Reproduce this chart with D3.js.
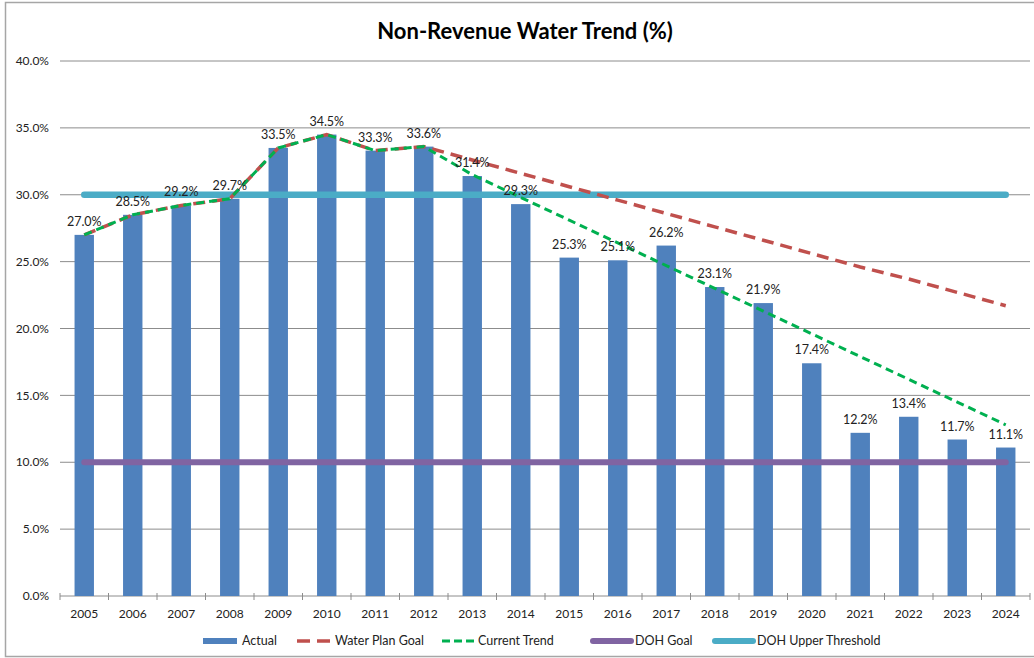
<!DOCTYPE html>
<html>
<head>
<meta charset="utf-8">
<script src="https://cdn.jsdelivr.net/npm/d3@7"></script>
<style>
    body { margin: 0; background: #fff; }
    svg { display: block; font-family: Lato, "Open Sans", sans-serif; }
</style>
</head>
<body>
<div id="chart"></div>
<script>
const years = ["2005", "2006", "2007", "2008", "2009", "2010", "2011", "2012", "2013", "2014",
    "2015", "2016", "2017", "2018", "2019", "2020", "2021", "2022", "2023", "2024"];
const actual = [27.0, 28.5, 29.2, 29.7, 33.5, 34.5, 33.3, 33.6, 31.4, 29.3,
    25.3, 25.1, 26.2, 23.1, 21.9, 17.4, 12.2, 13.4, 11.7, 11.1];
const waterPlanGoal = [27.0, 28.5, 29.2, 29.7, 33.5, 34.5, 33.3, 33.6, 32.6, 31.6,
    30.6, 29.6, 28.6, 27.6, 26.6, 25.6, 24.6, 23.7, 22.7, 21.7];
const currentTrend = [27.0, 28.5, 29.2, 29.7, 33.5, 34.5, 33.3, 33.6, 31.5, 29.8,
    28.1, 26.4, 24.7, 23.0, 21.3, 19.6, 17.9, 16.2, 14.5, 12.8];
const dohGoal = [10, 10, 10, 10, 10, 10, 10, 10, 10, 10, 10, 10, 10, 10, 10, 10, 10, 10, 10, 10];
const dohUpper = [30, 30, 30, 30, 30, 30, 30, 30, 30, 30, 30, 30, 30, 30, 30, 30, 30, 30, 30, 30];
const yTicks = [0, 5, 10, 15, 20, 25, 30, 35, 40];

const W = 1034, H = 658;
const margin = {top: 61, right: 4, bottom: 62, left: 60},
    width = W - margin.left - margin.right,
    height = H - margin.top - margin.bottom;

const colors = {
    actual: "#4f81bd",
    plan: "#c0504d",
    trend: "#00b050",
    goal: "#8064a2",
    upper: "#4bacc6",
    grid: "#8c8c8c"
};

const svg = d3.select("#chart").append("svg")
    .attr("width", W)
    .attr("height", H);

// outer frame
svg.append("rect")
    .attr("x", 5.5).attr("y", 2.5)
    .attr("width", W + 10).attr("height", H - 4)
    .attr("fill", "none")
    .attr("stroke", "#a6a6a6")
    .attr("stroke-width", 1.5);

svg.append("text")
    .attr("x", 525).attr("y", 39)
    .attr("text-anchor", "middle")
    .attr("font-size", 22)
    .attr("font-weight", "bold")
    .attr("fill", "#000")
    .text("Non-Revenue Water Trend (%)");

const g = svg.append("g")
    .attr("transform", "translate(" + margin.left + "," + margin.top + ")");

const x = d3.scaleBand().domain(years).range([0, width]);
const y = d3.scaleLinear().domain([0, 40]).range([height, 0]);
const cx = d => x(d) + x.bandwidth() / 2;

// gridlines
g.append("g").selectAll("line")
    .data(yTicks)
    .enter().append("line")
    .attr("x1", 0).attr("x2", width)
    .attr("y1", d => y(d)).attr("y2", d => y(d))
    .attr("stroke", colors.grid)
    .attr("stroke-width", 1);

// y labels
g.append("g").selectAll("text")
    .data(yTicks)
    .enter().append("text")
    .attr("x", -11)
    .attr("y", d => y(d))
    .attr("dy", "0.35em")
    .attr("text-anchor", "end")
    .attr("font-size", 12)
    .attr("fill", "#222")
    .text(d => d3.format(".1f")(d) + "%");

// x axis ticks at band edges
const edges = years.map(d => x(d)).concat([width]);
g.append("g").selectAll("line")
    .data(edges)
    .enter().append("line")
    .attr("x1", d => d).attr("x2", d => d)
    .attr("y1", height - 3).attr("y2", height + 4)
    .attr("stroke", colors.grid);

g.append("g").selectAll("text")
    .data(years)
    .enter().append("text")
    .attr("x", d => cx(d))
    .attr("y", height + 22)
    .attr("text-anchor", "middle")
    .attr("font-size", 12)
    .attr("fill", "#222")
    .text(d => d);

// bars
const barW = x.bandwidth() * 0.4;
g.append("g").selectAll("rect")
    .data(actual)
    .enter().append("rect")
    .attr("x", (d, i) => cx(years[i]) - barW / 2)
    .attr("width", barW)
    .attr("y", d => y(d))
    .attr("height", d => height - y(d))
    .attr("fill", colors.actual);

const line = d3.line()
    .x((d, i) => cx(years[i]))
    .y(d => y(d));

g.append("path")
    .attr("d", line(dohGoal))
    .attr("fill", "none")
    .attr("stroke", colors.goal)
    .attr("stroke-width", 6)
    .attr("stroke-linecap", "round");

g.append("path")
    .attr("d", line(dohUpper))
    .attr("fill", "none")
    .attr("stroke", colors.upper)
    .attr("stroke-width", 6.5)
    .attr("stroke-linecap", "round");

g.append("path")
    .attr("d", line(waterPlanGoal))
    .attr("fill", "none")
    .attr("stroke", colors.plan)
    .attr("stroke-width", 3.5)
    .attr("stroke-dasharray", "12,7");

g.append("path")
    .attr("d", line(currentTrend))
    .attr("fill", "none")
    .attr("stroke", colors.trend)
    .attr("stroke-width", 3)
    .attr("stroke-dasharray", "8,5");

// data labels
g.append("g").selectAll("text")
    .data(actual)
    .enter().append("text")
    .attr("x", (d, i) => cx(years[i]))
    .attr("y", d => y(d) - 9)
    .attr("text-anchor", "middle")
    .attr("font-size", 12.5)
    .attr("fill", "#222")
    .text(d => d3.format(".1f")(d) + "%");

// legend
const legendItems = [
    {name: "Actual", type: "rect", color: colors.actual, x: 203, tx: 39},
    {name: "Water Plan Goal", type: "dash", color: colors.plan, dash: "13,7", w: 3.5, x: 297, len: 33, tx: 38},
    {name: "Current Trend", type: "dash", color: colors.trend, dash: "8,4", w: 3, x: 442, len: 32, tx: 36},
    {name: "DOH Goal", type: "line", color: colors.goal, w: 6, x: 590, tx: 45},
    {name: "DOH Upper Threshold", type: "line", color: colors.upper, w: 6, x: 712, tx: 45}
];
const legend = svg.append("g")
    .selectAll("g")
    .data(legendItems)
    .enter().append("g")
    .attr("transform", d => "translate(" + d.x + ",641)");

legend.each(function (d) {
    const s = d3.select(this);
    if (d.type === "rect") {
        s.append("rect").attr("x", 0).attr("y", -3).attr("width", 34).attr("height", 6).attr("fill", d.color);
    } else {
        s.append("line")
            .attr("x1", d.type === "line" ? 3 : 0).attr("x2", d.type === "line" ? 41 : d.len)
            .attr("y1", 0).attr("y2", 0)
            .attr("stroke", d.color)
            .attr("stroke-width", d.w)
            .attr("stroke-linecap", d.type === "line" ? "round" : "butt")
            .attr("stroke-dasharray", d.dash || null);
    }
});

legend.append("text")
    .attr("x", d => d.tx)
    .attr("y", 0)
    .attr("dy", "0.35em")
    .attr("font-size", 12.5)
    .attr("fill", "#222")
    .text(d => d.name);
</script>
</body>
</html>
